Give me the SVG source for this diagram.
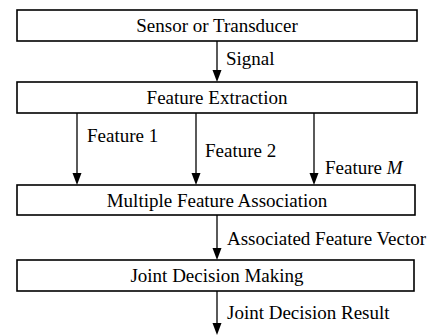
<svg xmlns="http://www.w3.org/2000/svg" width="439" height="335" viewBox="0 0 439 335">
<style>
.box{fill:#fff;stroke:#000;stroke-width:1.6}
.ln{stroke:#000;stroke-width:1.3;fill:none}
</style>
<rect width="439" height="335" fill="#fff"/>
<g id="connectors">
<path class="ln" d="M217,41 V70"/><path d="M212.5,70 L221.5,70 L217,82 Z"/>
<path class="ln" d="M77,113 V173"/><path d="M72.5,173 L81.5,173 L77,185 Z"/>
<path class="ln" d="M196,113 V173"/><path d="M191.5,173 L200.5,173 L196,185 Z"/>
<path class="ln" d="M314,113 V173"/><path d="M309.5,173 L318.5,173 L314,185 Z"/>
<path class="ln" d="M217,215 V248"/><path d="M212.5,248 L221.5,248 L217,260 Z"/>
<path class="ln" d="M217,291 V323"/><path d="M212.5,323 L221.5,323 L217,335 Z"/>
</g>
<g id="labels" font-family="'Liberation Serif', 'Times New Roman', serif" font-size="19" fill="#000">
<text x="226" y="65">Signal</text>
<text x="87" y="142">Feature 1</text>
<text x="205" y="157">Feature 2</text>
<text x="325" y="174">Feature <tspan font-style="italic">M</tspan></text>
<text x="227" y="245">Associated Feature Vector</text>
<text x="227" y="319">Joint Decision Result</text>
</g>
<g font-family="'Liberation Serif', 'Times New Roman', serif" font-size="19" fill="#000" text-anchor="middle">
<g id="sensor"><rect class="box" x="17" y="10" width="400" height="31"/><text x="217" y="32">Sensor or Transducer</text></g>
<g id="extraction"><rect class="box" x="17" y="82" width="400" height="31"/><text x="217" y="104">Feature Extraction</text></g>
<g id="association"><rect class="box" x="17" y="185" width="398" height="30"/><text x="217" y="207">Multiple Feature Association</text></g>
<g id="decision"><rect class="box" x="17" y="260" width="397" height="31"/><text x="217" y="282">Joint Decision Making</text></g>
</g>
</svg>
